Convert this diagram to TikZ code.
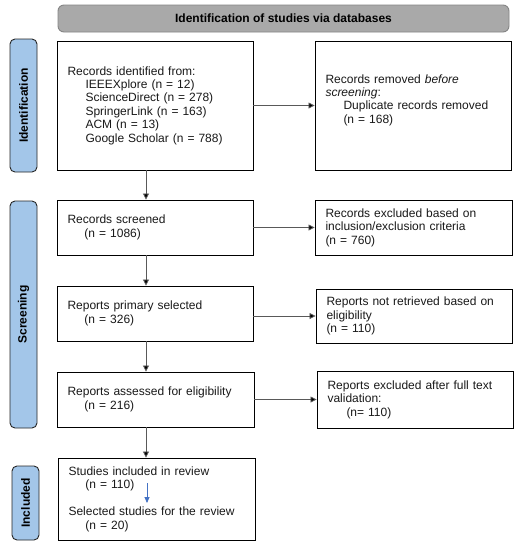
\documentclass[tikz,border=0pt]{standalone}
\usepackage{fontspec}
\setmainfont{Liberation Sans}
\usetikzlibrary{arrows.meta}
\definecolor{phaseblue}{HTML}{A3C6E9}
\definecolor{headgray}{HTML}{A9A9A9}
\definecolor{headborder}{HTML}{858585}
\definecolor{bluearrow}{HTML}{4472C4}
\newcommand\ind{\hspace*{18pt}}
\newcommand\boxfont{\fontsize{12pt}{13.4pt}\selectfont}
\tikzset{
  box/.style={draw=black, line width=0.9pt, fill=white, inner xsep=10.5pt, inner ysep=0pt,
    align=left, font=\boxfont, text=black!90},
  phase/.style={draw=black!85, line width=0.9pt, fill=phaseblue, rounded corners=5pt,
    font=\bfseries\fontsize{12pt}{14pt}\selectfont, rotate=90, inner sep=0pt},
  arr/.style={draw=black!65, line width=0.8pt, -{Triangle[length=6pt,width=6pt,fill=black]}},
  bluearr/.style={draw=bluearrow, line width=0.8pt, -{Triangle[length=6pt,width=5pt]}},
}
\begin{document}
\begin{tikzpicture}[x=1pt,y=-1pt]
\useasboundingbox[fill=white] (0,0) rectangle (522,550);

% header
\node[draw=headborder, line width=0.9pt, fill=headgray, rounded corners=6pt,
  minimum width=451pt, minimum height=27pt, inner sep=0pt,
  font=\bfseries\fontsize{12pt}{14pt}\selectfont] (head) at (283.5,18.5)
  {Identification of studies via databases};

% phase labels
\node[phase, minimum width=133pt, minimum height=27pt] (pid) at (23.5,105.5) {Identification};
\node[phase, minimum width=227pt, minimum height=27pt] (pscr) at (23.5,314.5) {Screening};
\node[phase, minimum width=74pt, minimum height=27pt] (pinc) at (25.5,503) {Included};

% boxes
\node[box, text width=175pt, minimum height=129pt] (id1) at (155,105.5)
  {Records identified from:\\
   \ind IEEEXplore (n = 12)\\
   \ind ScienceDirect (n = 278)\\
   \ind SpringerLink (n = 163)\\
   \ind ACM (n = 13)\\
   \ind Google Scholar (n = 788)};
\node[box, text width=175pt, minimum height=129pt] (rem) at (413,105.5)
  {Records removed \textit{before}\\
   \textit{screening}:\\
   \ind Duplicate records removed\\
   \ind (n = 168)\\[0pt]\mbox{}};

\node[box, text width=175pt, minimum height=55pt] (scr) at (155,227.5)
  {Records screened\\ \hspace*{17pt}(n = 1086)};
\node[box, text width=176pt, minimum height=55pt] (exc) at (413.5,227.5)
  {Records excluded based on\\ inclusion/exclusion criteria\\ (n = 760)};

\node[box, text width=175pt, minimum height=55pt] (sel) at (155,313.5)
  {Reports primary selected\\ \hspace*{17pt}(n = 326)};
\node[box, text width=175pt, minimum height=54pt] (nret) at (414,316)
  {Reports not retrieved based on\\ eligibility\\ (n = 110)};

\node[box, text width=176pt, minimum height=55pt] (ass) at (155.5,399.5)
  {Reports assessed for eligibility\\ \hspace*{17pt}(n = 216)};
\node[box, text width=175pt, minimum height=57pt] (exf) at (415,399.5)
  {Reports excluded after full text\\ validation:\\ \ind\hspace*{1pt}(n= 110)};

\node[box, text width=176pt, minimum height=82pt] (inc) at (156.5,499)
  {Studies included in review\\ \hspace*{17pt}(n = 110)\\[14pt]
   Selected studies for the review\\ \hspace*{17pt}(n = 20)};

% connectors
\coordinate (sx) at (146,0);
\draw[arr] (id1.south -| sx) -- (scr.north -| sx);
\draw[arr] (scr.south -| sx) -- (sel.north -| sx);
\draw[arr] (sel.south -| sx) -- (ass.north -| sx);
\draw[arr] (ass.south -| sx) -- (inc.north -| sx);

\draw[arr] (id1.east) -- (rem.west);
\draw[arr] (scr.east) -- (exc.west);
\draw[arr] (sel.east |- nret.west) -- (nret.west);
\draw[arr] (ass.east) -- (exf.west);

\coordinate (ba) at (147,483);
\coordinate (bb) at (147,503);
\draw[bluearr] (ba) -- (bb);
\end{tikzpicture}
\end{document}
